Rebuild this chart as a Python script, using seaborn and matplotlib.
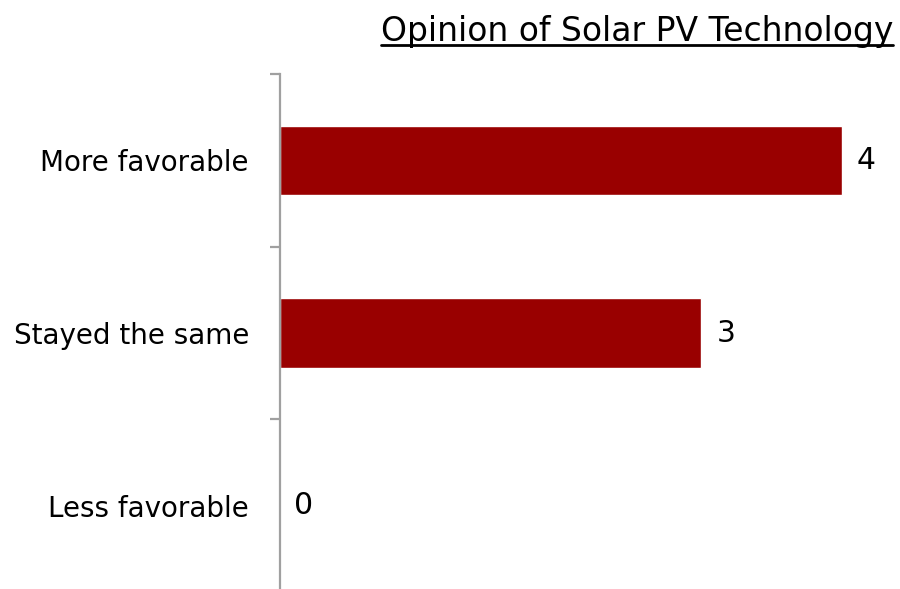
import matplotlib
matplotlib.use("Agg")
import matplotlib.pyplot as plt
from matplotlib.lines import Line2D
import seaborn as sns
import pandas as pd

categories = ["More favorable", "Stayed the same", "Less favorable"]
counts = [4, 3, 0]
title_text = "Opinion of Solar PV Technology"

sns.set_theme(style="white")
plt.rcParams["font.family"] = ["DejaVu Sans"]

df = pd.DataFrame({"category": categories, "count": counts})

W, H = 900, 589
fig = plt.figure(figsize=(W / 100, H / 100), dpi=100)
x0, x1 = 279.5, 900
y_top, y_bot = 74, 592
ax = fig.add_axes([x0 / W, (H - y_bot) / H, (x1 - x0) / W, (y_bot - y_top) / H])

sns.barplot(data=df, x="count", y="category", orient="h", color="#990000",
            width=0.4, saturation=1, ax=ax)

px_per_unit = (842 - x0) / 4
ax.set_xlim(0, (x1 - x0) / px_per_unit)
ax.set_ylim(2.5, -0.5)

for i, v in enumerate(counts):
    ax.text(v + 15 / px_per_unit, i, str(v), va="center", ha="left",
            fontsize=21.5, color="black")

ax.set_xlabel("")
ax.set_ylabel("")
ax.set_xticks([])
for s in ["top", "right", "bottom"]:
    ax.spines[s].set_visible(False)
ax.spines["left"].set_color("#a0a0a0")
ax.spines["left"].set_linewidth(1.6)

# category labels centred in each band, ticks on band boundaries
ax.set_yticks([-0.5, 0.5, 1.5, 2.5])
ax.set_yticklabels([])
ax.tick_params(axis="y", which="major", length=7.5, width=1.6, color="#a0a0a0",
               left=True)
ax.set_yticks([0, 1, 2], minor=True)
ax.set_yticklabels(categories, minor=True, fontsize=20, color="black")
ax.tick_params(axis="y", which="minor", length=0, pad=22)

# underlined title, right aligned
title = fig.text(893 / W, 1 - 41 / H, title_text, ha="right", va="baseline",
                 fontsize=23.8, color="black")
fig.canvas.draw()
bb = title.get_window_extent()
fig.add_artist(Line2D([bb.x0 / W, 893 / W], [1 - 44.5 / H, 1 - 44.5 / H],
                      transform=fig.transFigure, color="black", linewidth=2))

fig.savefig("out.png", dpi=100)
